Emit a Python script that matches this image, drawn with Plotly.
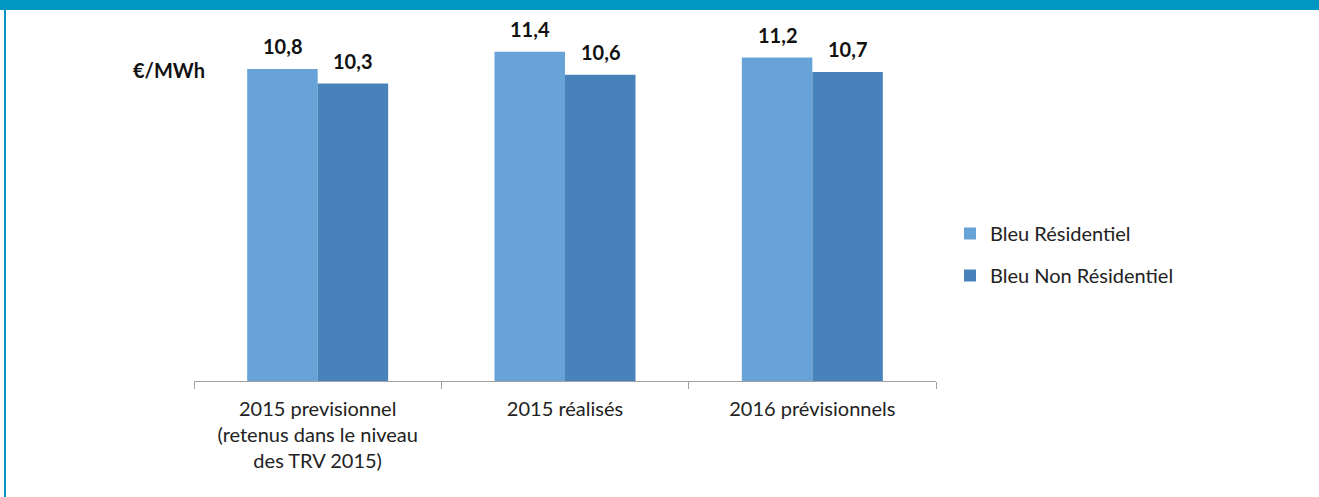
import plotly.graph_objects as go

# Data
categories = [
    "2015 previsionnel<br>(retenus dans le niveau<br>des TRV 2015)",
    "2015 réalisés",
    "2016 prévisionnels",
]
residentiel = [10.8, 11.4, 11.2]
non_residentiel = [10.3, 10.6, 10.7]
series_names = ["Bleu Résidentiel", "Bleu Non Résidentiel"]
unit_label = "€/MWh"

# Figure geometry (pixels)
W, H = 1319, 497
M_L, M_R, M_T, M_B = 194, 383, 20, 116
PLOT_W = W - M_L - M_R
PLOT_H = H - M_T - M_B

FONT = "Lato, 'Open Sans', sans-serif"
C_LIGHT = "#67A3D6"
C_DARK = "#4882BB"
FRAME = "#0098C3"
BARGAP = 0.43


def px_x(x):
    return (x - M_L) / PLOT_W


def px_y(y):
    return (H - M_B - y) / PLOT_H


fig = go.Figure()
fig.add_trace(go.Bar(x=categories, y=residentiel, name=series_names[0],
                     marker=dict(color=C_LIGHT, line=dict(width=0)),
                     legendgroup="a"))
fig.add_trace(go.Bar(x=categories, y=non_residentiel, name=series_names[1],
                     marker=dict(color=C_DARK, line=dict(width=0)),
                     legendgroup="b"))

# Value labels above each bar, offset to the bar centres of the group
half = (1 - BARGAP) / 4
annotations = []
for series, off in ((residentiel, -half), (non_residentiel, half)):
    for i, v in enumerate(series):
        annotations.append(dict(
            x=i + off, y=v, xref="x", yref="y",
            text=f"<b>{v:.1f}</b>".replace(".", ","),
            showarrow=False, yanchor="bottom", yshift=9,
            font=dict(family=FONT, size=20, color="#111111"),
        ))

annotations.append(dict(
    x=px_x(169), y=px_y(70), xref="paper", yref="paper",
    text=f"<b>{unit_label}</b>", showarrow=False,
    xanchor="center", yanchor="middle",
    font=dict(family=FONT, size=20, color="#111111"),
))

# Frame: top band and left edge
shapes = [
    dict(type="rect", xref="paper", yref="paper",
         x0=px_x(0), x1=px_x(W), y0=px_y(10), y1=px_y(0),
         fillcolor=FRAME, line=dict(width=0), layer="above"),
    dict(type="rect", xref="paper", yref="paper",
         x0=px_x(4), x1=px_x(6), y0=px_y(H), y1=px_y(0),
         fillcolor=FRAME, line=dict(width=0), layer="above"),
]

fig.update_layout(
    width=W, height=H,
    margin=dict(l=M_L, r=M_R, t=M_T, b=M_B),
    paper_bgcolor="white", plot_bgcolor="white",
    barmode="group", bargap=BARGAP, bargroupgap=0,
    font=dict(family=FONT, size=20, color="#222222"),
    showlegend=True,
    legend=dict(
        x=px_x(950), y=px_y(214), xanchor="left", yanchor="top",
        traceorder="grouped", tracegroupgap=13,
        font=dict(family=FONT, size=20, color="#222222"),
        bgcolor="rgba(0,0,0,0)",
    ),
    annotations=annotations,
    shapes=shapes,
)
fig.update_xaxes(
    showline=True, linecolor="#A0A0A0", linewidth=1,
    ticks="outside", tickson="boundaries", ticklen=7, tickcolor="#A0A0A0",
    ticklabelstandoff=10,
    showgrid=False, tickfont=dict(family=FONT, size=20, color="#222222"),
)
fig.update_yaxes(range=[0, 12.5], visible=False, showgrid=False)

fig.write_html("out.html")
